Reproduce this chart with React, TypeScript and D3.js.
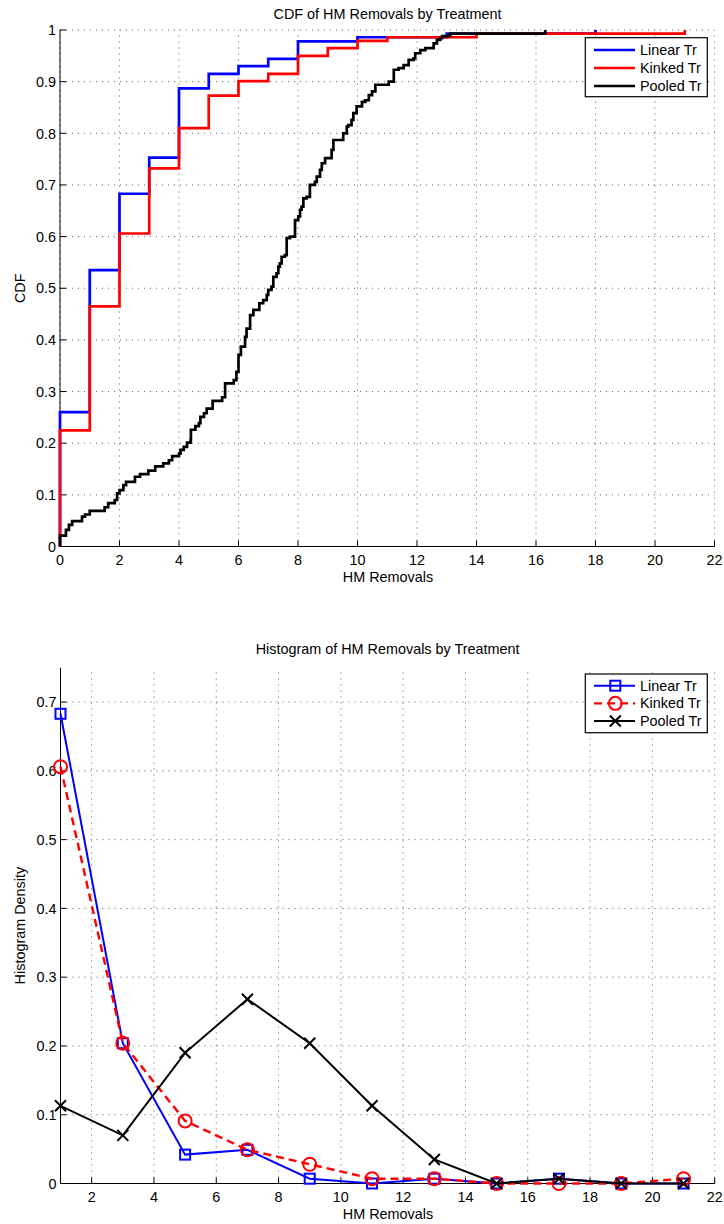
import React from 'react';
import * as d3 from 'd3';

// ---------- DATA ----------
const linearCdfX = [0, 0, 1, 2, 3, 4, 5, 6, 7, 8, 10, 13, 18];
const linearCdfY = [0, 0.26, 0.535, 0.683, 0.753, 0.887, 0.915, 0.93, 0.944, 0.978, 0.986, 0.993, 1.0];

const kinkedCdfX = [0, 0, 1, 2, 3, 4, 5, 6, 7, 8, 9, 10, 11, 14, 21];
const kinkedCdfY = [0, 0.225, 0.465, 0.606, 0.732, 0.81, 0.873, 0.901, 0.915, 0.95, 0.965, 0.979, 0.986, 0.993, 1.0];

const pooledCdfX = [
  0, 0, 0.2, 0.3, 0.41, 0.74, 0.84, 1.0, 1.5, 1.62, 1.84, 1.92, 2.0, 2.13, 2.22, 2.52, 2.69, 2.97,
  3.2, 3.47, 3.66, 3.77, 4.0, 4.05, 4.16, 4.27, 4.39, 4.4, 4.55, 4.67, 4.72, 4.84, 4.93, 5.13,
  5.45, 5.55, 5.84, 5.93, 6.0, 6.08, 6.22, 6.27, 6.39, 6.5, 6.7, 6.83, 6.95, 7.0, 7.11, 7.17,
  7.28, 7.34, 7.39, 7.45, 7.56, 7.62, 7.73, 7.9, 8.01, 8.07, 8.12, 8.18, 8.29, 8.4, 8.57, 8.63,
  8.74, 8.8, 8.91, 9.13, 9.19, 9.52, 9.64, 9.69, 9.8, 9.86, 9.97, 10.15, 10.26, 10.38, 10.49,
  10.6, 11.05, 11.22, 11.38, 11.55, 11.72, 11.89, 11.94, 12.11, 12.28, 12.56, 12.67, 12.78,
  12.84, 13.07, 13.12, 16.31,
];
const pooledCdfY = [
  0, 0.021, 0.032, 0.042, 0.049, 0.058, 0.062, 0.069, 0.076, 0.084, 0.09, 0.103, 0.109, 0.119,
  0.125, 0.135, 0.14, 0.147, 0.155, 0.161, 0.167, 0.175, 0.18, 0.187, 0.193, 0.201, 0.206, 0.226,
  0.233, 0.239, 0.251, 0.258, 0.267, 0.282, 0.289, 0.316, 0.322, 0.338, 0.371, 0.387, 0.406,
  0.422, 0.448, 0.458, 0.471, 0.477, 0.487, 0.497, 0.503, 0.522, 0.529, 0.542, 0.548, 0.561,
  0.564, 0.597, 0.6, 0.632, 0.639, 0.652, 0.658, 0.674, 0.677, 0.7, 0.706, 0.716, 0.729, 0.742,
  0.752, 0.768, 0.787, 0.8, 0.813, 0.816, 0.826, 0.839, 0.852, 0.861, 0.864, 0.874, 0.881, 0.894,
  0.9, 0.923, 0.926, 0.932, 0.942, 0.945, 0.955, 0.961, 0.965, 0.974, 0.981, 0.984, 0.988, 0.99,
  0.993, 1.0,
];

const histCenters = [1, 3, 5, 7, 9, 11, 13, 15, 17, 19, 21];
const linearHist = [0.683, 0.204, 0.042, 0.049, 0.007, 0, 0.007, 0, 0.007, 0, 0];
const kinkedHist = [0.606, 0.204, 0.091, 0.049, 0.028, 0.007, 0.007, 0, 0, 0, 0.007];
const pooledHist = [0.113, 0.07, 0.19, 0.268, 0.204, 0.113, 0.035, 0, 0.007, 0, 0];

const topXTicks = [0, 2, 4, 6, 8, 10, 12, 14, 16, 18, 20, 22];
const topYTicks = [0, 0.1, 0.2, 0.3, 0.4, 0.5, 0.6, 0.7, 0.8, 0.9, 1];
const botXTicks = [2, 4, 6, 8, 10, 12, 14, 16, 18, 20, 22];
const botYTicks = [0, 0.1, 0.2, 0.3, 0.4, 0.5, 0.6, 0.7];

const seriesNames = ['Linear Tr', 'Kinked Tr', 'Pooled Tr'];
const seriesColors = ['#0000ff', '#ff0000', '#000000'];

const FONT = "'Liberation Sans', Arial, Helvetica, sans-serif";
const FS = 14.4;

const zip = (xs: number[], ys: number[]) => xs.map((x, i) => [x, ys[i]] as [number, number]);

function Grid({ x, y, xTicks, yTicks }: any) {
  const [x0, x1] = x.range();
  const [y0, y1] = y.range();
  return (
    <g stroke="#333" strokeWidth={0.8} strokeDasharray="1,5" fill="none">
      {xTicks.map((t: number) => (
        <line key={'gx' + t} x1={x(t)} x2={x(t)} y1={y0} y2={y1} />
      ))}
      {yTicks.filter((t: number) => t !== 0).map((t: number) => (
        <line key={'gy' + t} x1={x0} x2={x1} y1={y(t)} y2={y(t)} />
      ))}
    </g>
  );
}

function Axes({ x, y, xTicks, yTicks, fmtY }: any) {
  const [x0, x1] = x.range();
  const [y0, y1] = y.range();
  return (
    <g>
      <line x1={x0} x2={x1} y1={y0} y2={y0} stroke="#000" strokeWidth={1} />
      <line x1={x0} x2={x0} y1={y0} y2={y1} stroke="#000" strokeWidth={1} />
      {xTicks.map((t: number) => (
        <g key={'tx' + t}>
          <line x1={x(t)} x2={x(t)} y1={y0} y2={y0 - 6} stroke="#000" strokeWidth={1} />
          <text x={x(t)} y={y0 + 18.5} textAnchor="middle" fontFamily={FONT} fontSize={FS} fill="#000">
            {t}
          </text>
        </g>
      ))}
      {yTicks.map((t: number) => (
        <g key={'ty' + t}>
          <line x1={x0} x2={x0 + 6} y1={y(t)} y2={y(t)} stroke="#000" strokeWidth={1} />
          <text x={x0 - 4} y={y(t) + 5.2} textAnchor="end" fontFamily={FONT} fontSize={FS} fill="#000">
            {fmtY(t)}
          </text>
        </g>
      ))}
    </g>
  );
}

function Marker({ kind, cx, cy, color }: any) {
  if (kind === 'square') {
    return <rect x={cx - 5} y={cy - 5} width={10} height={10} fill="none" stroke={color} strokeWidth={2} />;
  }
  if (kind === 'circle') {
    return <circle cx={cx} cy={cy} r={6.5} fill="none" stroke={color} strokeWidth={2} />;
  }
  return (
    <path
      d={`M${cx - 5.5},${cy - 5.5}L${cx + 5.5},${cy + 5.5}M${cx - 5.5},${cy + 5.5}L${cx + 5.5},${cy - 5.5}`}
      stroke={color}
      strokeWidth={2}
      fill="none"
    />
  );
}

export default function App() {
  const xTop = d3.scaleLinear().domain([0, 22]).range([60, 714.5]);
  const yTop = d3.scaleLinear().domain([0, 1]).range([546.5, 30]);
  const xBot = d3.scaleLinear().domain([1, 22]).range([60.5, 714.7]);
  const yBot = d3.scaleLinear().domain([0, 0.75]).range([1183.5, 667.7]);

  const stepLine = d3
    .line<[number, number]>()
    .x((d) => xTop(d[0]))
    .y((d) => yTop(d[1]))
    .curve(d3.curveStepAfter);

  const histLine = d3
    .line<[number, number]>()
    .x((d) => xBot(d[0]))
    .y((d) => yBot(d[1]));

  const cdfData = [zip(linearCdfX, linearCdfY), zip(kinkedCdfX, kinkedCdfY), zip(pooledCdfX, pooledCdfY)];
  const histData = [zip(histCenters, linearHist), zip(histCenters, kinkedHist), zip(histCenters, pooledHist)];
  const markerKinds = ['square', 'circle', 'x'];
  const histWidths = [2, 2.4, 2];
  const histDash = [undefined, '8,5', undefined];

  const fmtTop = (t: number) => (t === 0 ? '0' : t === 1 ? '1' : d3.format('.1f')(t));
  const fmtBot = (t: number) => (t === 0 ? '0' : d3.format('.1f')(t));

  const legX0 = 585.3;
  const legW = 122;

  return (
    <svg
      width={724}
      height={1224}
      style={{ position: 'absolute', left: 0, top: 0, display: 'block', background: '#fff' }}
    >
      <rect x={0} y={0} width={724} height={1224} fill="#fff" />

      {/* ---------- TOP: CDF ---------- */}
      <text x={387.5} y={19.3} textAnchor="middle" fontFamily={FONT} fontSize={FS} fill="#000">
        CDF of HM Removals by Treatment
      </text>
      <Grid x={xTop} y={yTop} xTicks={topXTicks} yTicks={topYTicks} />
      <Axes x={xTop} y={yTop} xTicks={topXTicks} yTicks={topYTicks} fmtY={fmtTop} />
      {cdfData.map((d, i) => (
        <path key={'cdf' + i} d={stepLine(d) || ''} fill="none" stroke={seriesColors[i]} strokeWidth={2.7} />
      ))}
      <text x={388} y={582} textAnchor="middle" fontFamily={FONT} fontSize={FS} fill="#000">
        HM Removals
      </text>
      <text
        transform={`translate(25,${(30 + 546.5) / 2}) rotate(-90)`}
        textAnchor="middle"
        fontFamily={FONT}
        fontSize={FS}
        fill="#000"
      >
        CDF
      </text>
      <g>
        <rect x={legX0} y={37.7} width={legW} height={59} fill="#fff" stroke="#000" strokeWidth={1.2} />
        {seriesNames.map((n, i) => {
          const cy = 50 + i * 18;
          return (
            <g key={'lt' + i}>
              <line x1={594} x2={635} y1={cy} y2={cy} stroke={seriesColors[i]} strokeWidth={2.7} />
              <text x={640} y={cy + 5} fontFamily={FONT} fontSize={FS} fill="#000">
                {n}
              </text>
            </g>
          );
        })}
      </g>

      {/* ---------- BOTTOM: HISTOGRAM ---------- */}
      <text x={387.6} y={654.3} textAnchor="middle" fontFamily={FONT} fontSize={FS} fill="#000">
        Histogram of HM Removals by Treatment
      </text>
      <Grid x={xBot} y={yBot} xTicks={botXTicks} yTicks={botYTicks} />
      <Axes x={xBot} y={yBot} xTicks={botXTicks} yTicks={botYTicks} fmtY={fmtBot} />
      {histData.map((d, i) => (
        <g key={'h' + i}>
          <path
            d={histLine(d) || ''}
            fill="none"
            stroke={seriesColors[i]}
            strokeWidth={histWidths[i]}
            strokeDasharray={histDash[i]}
          />
          {d.map((p, j) => (
            <Marker key={j} kind={markerKinds[i]} cx={xBot(p[0])} cy={yBot(p[1])} color={seriesColors[i]} />
          ))}
        </g>
      ))}
      <text x={388} y={1218.5} textAnchor="middle" fontFamily={FONT} fontSize={FS} fill="#000">
        HM Removals
      </text>
      <text
        transform={`translate(25,${(667.7 + 1183.5) / 2}) rotate(-90)`}
        textAnchor="middle"
        fontFamily={FONT}
        fontSize={FS}
        fill="#000"
      >
        Histogram Density
      </text>
      <g>
        <rect x={legX0} y={674} width={legW} height={58.7} fill="#fff" stroke="#000" strokeWidth={1.2} />
        {seriesNames.map((n, i) => {
          const cy = 685.7 + i * 17.65;
          return (
            <g key={'lb' + i}>
              <line
                x1={594}
                x2={635}
                y1={cy}
                y2={cy}
                stroke={seriesColors[i]}
                strokeWidth={histWidths[i]}
                strokeDasharray={histDash[i]}
              />
              <Marker kind={markerKinds[i]} cx={615.3} cy={cy} color={seriesColors[i]} />
              <text x={640} y={cy + 5} fontFamily={FONT} fontSize={FS} fill="#000">
                {n}
              </text>
            </g>
          );
        })}
      </g>
    </svg>
  );
}
